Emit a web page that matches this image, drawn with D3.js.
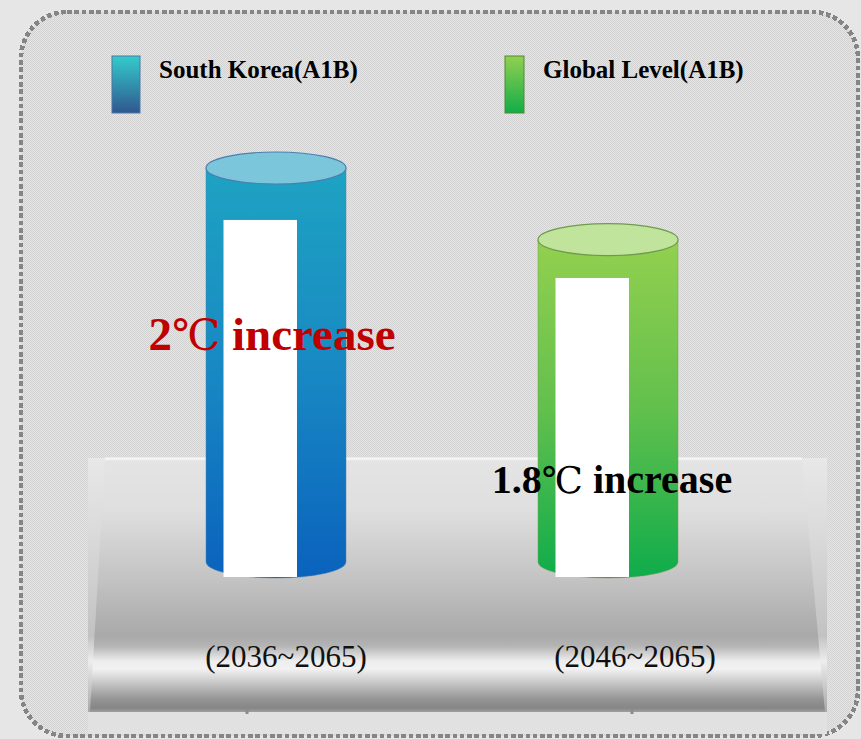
<!DOCTYPE html>
<html>
<head>
<meta charset="utf-8">
<script src="https://cdn.jsdelivr.net/npm/d3@7"></script>
<style>
  html, body { margin: 0; padding: 0; background: #e6e6e6; }
  svg { display: block; }
</style>
</head>
<body>
<div id="chart"></div>
<script>
// Projected warming under the A1B scenario
const regions = ["South Korea(A1B)", "Global Level(A1B)"];
const warming = [2.0, 1.8];                       // °C increase
const valueNumbers = ["2", "1.8"];
const unitText = "℃";
const suffixText = " increase";
const periods = ["(2036~2065)", "(2046~2065)"];
const panelLevels = [1.855, 1.693];               // top of the white caption panels, in °C

const W = 861, H = 739;
const svg = d3.select("#chart").append("svg")
  .attr("width", W).attr("height", H);
const defs = svg.append("defs");

function linGrad(id, stops, y1, y2) {
  const g = defs.append("linearGradient").attr("id", id)
    .attr("x1", 0).attr("x2", 0).attr("y1", y1 ?? 0).attr("y2", y2 ?? 1);
  if (y1 !== undefined) g.attr("gradientUnits", "userSpaceOnUse");
  stops.forEach(([o, c]) => g.append("stop").attr("offset", o).attr("stop-color", c));
  return `url(#${id})`;
}

// fine checker texture for the panel
const pat = defs.append("pattern").attr("id", "checker")
  .attr("width", 2).attr("height", 2).attr("patternUnits", "userSpaceOnUse");
pat.append("rect").attr("width", 2).attr("height", 2).attr("fill", "#e5e5e5");
pat.append("rect").attr("x", 0).attr("y", 0).attr("width", 1).attr("height", 1).attr("fill", "#d2d2d2");
pat.append("rect").attr("x", 1).attr("y", 1).attr("width", 1).attr("height", 1).attr("fill", "#d2d2d2");

// --- panel with dotted border ---
svg.append("rect")
  .attr("x", 21).attr("y", 12).attr("width", 837).attr("height", 724)
  .attr("rx", 46).attr("ry", 46)
  .attr("fill", "url(#checker)")
  .attr("shape-rendering", "crispEdges")
  .attr("stroke", "#858585").attr("stroke-width", 4.6)
  .attr("stroke-dasharray", "4.6 2.7");

// --- pedestal ---
const pedTop = 458, pedBot = 712;
const faceGrad = linGrad("faceGrad", [
  [0, "#f4f4f4"], [0.012, "#e4e4e4"], [0.2, "#dfdfdf"], [0.45, "#c6c6c6"],
  [0.7, "#a9a9a9"], [0.74, "#b4b4b4"], [0.8, "#eeeeee"], [0.83, "#f2f2f2"],
  [0.88, "#cbcbcb"], [0.95, "#949494"], [0.985, "#868686"], [1, "#a0a0a0"]
], pedTop, pedBot);
const sideGrad = linGrad("sideGrad", [
  [0, "#e8e8e8"], [0.3, "#dadada"], [0.7, "#c2c2c2"], [0.8, "#ededed"],
  [0.88, "#d0d0d0"], [1, "#a8a8a8"]
], pedTop, pedBot);

svg.append("rect")
  .attr("x", 88).attr("y", pedBot).attr("width", 739).attr("height", 22)
  .attr("fill", "#e1e1e1");
svg.append("rect")
  .attr("x", 88).attr("y", pedTop).attr("width", 739).attr("height", pedBot - pedTop)
  .attr("fill", sideGrad);
svg.append("path")
  .attr("d", `M105,${pedTop} L802,${pedTop} L825,${pedBot} L90,${pedBot} Z`)
  .attr("fill", faceGrad);
svg.append("path")
  .attr("d", `M105,${pedTop + 0.5} L802,${pedTop + 0.5}`)
  .attr("stroke", "#f7f7f7").attr("stroke-width", 2);

// --- scales ---
const x = d3.scalePoint().domain(regions).range([276, 608]);
const y = d3.scaleLinear().domain([0.9, 2.0]).range([562, 168]);
const periodX = d3.scalePoint().domain(periods).range([286, 635]);
const footX = d3.scalePoint().domain(periods).range([247, 632]);
const barW = 140, rx = barW / 2, ry = 16;

// small feet under the pedestal
svg.selectAll("rect.foot").data(periods).join("rect")
  .attr("class", "foot")
  .attr("x", d => footX(d) - 1.5).attr("y", pedBot - 3)
  .attr("width", 3).attr("height", 5)
  .attr("fill", "#8c8c8c");

// --- cylinders ---
const palettes = [
  { side: [["0", "#1ea3c2"], ["0.5", "#1888c3"], ["1", "#0a62bd"]], cap: "#7bc6da", edge: "#4c7fae" },
  { side: [["0", "#93d04f"], ["0.5", "#62c04d"], ["1", "#0fac4b"]], cap: "#c0e49b", edge: "#6f9b4c" }
];

regions.forEach((r, i) => {
  const cx = x(r), top = y(warming[i]), base = y(0.9);
  const fill = linGrad("cyl" + i, palettes[i].side, top, base + ry);
  const g = svg.append("g");
  g.append("path")
    .attr("d", `M${cx - rx},${top} L${cx - rx},${base} A${rx},${ry} 0 0 0 ${cx + rx},${base} L${cx + rx},${top} Z`)
    .attr("fill", fill)
    .attr("stroke", palettes[i].edge).attr("stroke-width", 0.8).attr("stroke-opacity", 0.6);
  g.append("ellipse")
    .attr("cx", cx).attr("cy", top).attr("rx", rx).attr("ry", ry)
    .attr("fill", palettes[i].cap)
    .attr("stroke", palettes[i].edge).attr("stroke-width", 1.2);
  // white caption panel
  g.append("rect")
    .attr("x", cx - rx + 17.5).attr("y", y(panelLevels[i]))
    .attr("width", 73.5).attr("height", base + 15 - y(panelLevels[i]))
    .attr("fill", "#ffffff");
});

// --- value labels ---
const serif = "'Liberation Serif', 'Times New Roman', serif";
const labelY = [350, 493], labelDx = [-4, 4];
const labelSize = [47, 40], labelColor = ["#c00000", "#000000"];
regions.forEach((r, i) => {
  const t = svg.append("text")
    .attr("x", x(r) + labelDx[i]).attr("y", labelY[i])
    .attr("text-anchor", "middle")
    .attr("font-family", serif).attr("font-weight", "bold")
    .attr("font-size", labelSize[i]).attr("fill", labelColor[i]);
  t.append("tspan").text(valueNumbers[i]);
  t.append("tspan")
    .attr("font-family", "'DejaVu Serif', 'Noto Sans CJK SC', serif")
    .attr("font-weight", "normal")
    .attr("font-size", labelSize[i] * 0.92)
    .text(unitText);
  t.append("tspan").text(suffixText);
});

// --- period labels ---
svg.selectAll("text.period").data(periods).join("text")
  .attr("class", "period")
  .attr("x", d => periodX(d)).attr("y", 667)
  .attr("text-anchor", "middle")
  .attr("font-family", serif).attr("font-size", 31).attr("fill", "#111")
  .text(d => d);

// --- legend ---
const legendX = [112, 505], swatchW = [28, 19];
const swatchFill = [
  linGrad("lg0", [["0", "#33cccc"], ["1", "#30578f"]]),
  linGrad("lg1", [["0", "#92d050"], ["1", "#12ad48"]])
];
const swatchEdge = ["#4d77a8", "#4f8a35"];
regions.forEach((r, i) => {
  svg.append("rect")
    .attr("x", legendX[i]).attr("y", 56)
    .attr("width", swatchW[i]).attr("height", 57)
    .attr("fill", swatchFill[i])
    .attr("stroke", swatchEdge[i]).attr("stroke-width", 1);
  svg.append("text")
    .attr("x", legendX[i] + swatchW[i] + 19).attr("y", 78)
    .attr("font-family", serif).attr("font-weight", "bold")
    .attr("font-size", 25).attr("fill", "#000")
    .text(r);
});
</script>
</body>
</html>
